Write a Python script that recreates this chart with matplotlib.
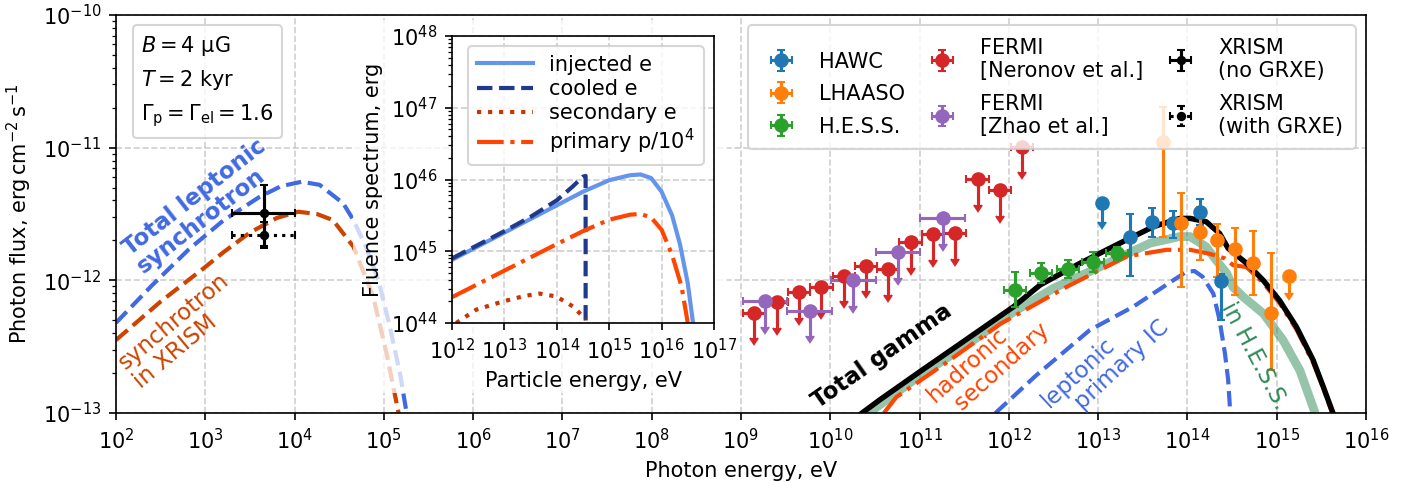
import numpy as np
import matplotlib
matplotlib.use("Agg")
import matplotlib.pyplot as plt
from matplotlib.lines import Line2D
from matplotlib.patches import Rectangle
from matplotlib.ticker import LogLocator

# ---------------- main panel: model curves (log10 E [eV], log10 F [erg/cm2/s]) -------------
sync_tot_logE = [2.0, 2.4, 2.81, 3.2, 3.61, 3.85, 4.08, 4.28, 4.545, 4.66, 4.8, 4.94, 5.067, 5.18, 5.255]
sync_tot_logF = [-12.32, -12.04, -11.77, -11.55, -11.37, -11.29, -11.257, -11.28, -11.42, -11.546,
                 -11.75, -12.0, -12.35, -12.70, -13.0]
sync_xrism_logE = [2.0, 2.5, 2.98, 3.2, 3.5, 3.8, 4.04, 4.25, 4.43, 4.66, 4.88, 5.03, 5.165]
sync_xrism_logF = [-12.45, -12.16, -11.91, -11.79, -11.64, -11.53, -11.483, -11.5, -11.546, -11.747,
                   -12.12, -12.55, -13.0]

tot_gamma_logE = [10.355, 10.556, 11.0, 11.5, 11.9, 12.05, 12.35, 12.795, 13.243, 13.617, 13.915, 14.03,
                  14.21, 14.36, 14.456, 14.66, 14.849, 15.03, 15.22, 15.407, 15.52, 15.63]
tot_gamma_logF = [-13.0, -12.90, -12.69, -12.457, -12.27, -12.2, -12.035, -11.872, -11.72, -11.596, -11.533,
                  -11.533, -11.558, -11.646, -11.759, -11.87, -12.0, -12.15, -12.35, -12.6, -12.8, -13.0]
hess_logE = [10.43, 11.0, 11.5, 12.05, 12.5, 13.02, 13.58, 13.915, 14.03, 14.21, 14.32, 14.44, 14.51,
             14.625, 14.85, 15.07, 15.26, 15.43]
hess_logF = [-13.0, -12.72, -12.5, -12.24, -12.06, -11.898, -11.72, -11.67, -11.67, -11.747, -11.847,
             -11.947, -12.05, -12.125, -12.25, -12.45, -12.68, -13.0]
hadr_logE = [10.6, 10.74, 11.3, 11.9, 12.645, 13.32, 13.765, 14.03, 14.25, 14.42, 14.51, 14.66, 14.849,
             15.03, 15.22, 15.407, 15.52, 15.62]
hadr_logF = [-13.0, -12.88, -12.62, -12.33, -12.05, -11.82, -11.77, -11.77, -11.80, -11.835, -11.885,
             -11.9, -12.02, -12.17, -12.37, -12.62, -12.81, -13.0]
lepIC_logE = [11.85, 12.3, 12.906, 13.39, 13.84, 13.99, 14.08, 14.17, 14.29, 14.36, 14.42, 14.456, 14.48]
lepIC_logF = [-13.0, -12.72, -12.375, -12.20, -12.0, -11.935, -11.93, -11.973, -12.10, -12.30, -12.55,
              -12.75, -13.0]

# ---------------- main panel: data points (log10 values) ----------------
fermiN_logE = [9.15, 9.40, 9.65, 9.90, 10.15, 10.40, 10.65, 10.90, 11.15, 11.40, 11.65, 11.90, 12.15]
fermiN_logF = [-12.244, -12.166, -12.09, -12.048, -11.965, -11.89, -11.917, -11.714, -11.651, -11.646,
               -11.239, -11.322, -10.993]
fermiN_dlogE = 0.125
fermiN_ul_frac = 0.36

fermiZ_logE = [9.27, 9.77, 10.26, 10.76, 11.26]
fermiZ_logF = [-12.156, -12.229, -12.0, -11.785, -11.533]
fermiZ_dlogE = 0.25
fermiZ_ul_frac = 0.36

hess_pts_logE = [12.07, 12.36, 12.66, 12.94, 13.21]
hess_pts_logF = [-12.073, -11.943, -11.917, -11.862, -11.797]
hess_pts_hi = [-11.935, -11.872, -11.847, -11.784, -11.747]
hess_pts_lo = [-12.20, -12.018, -11.98, -11.94, -11.85]
hess_dlogE = 0.125

hawc_logE = [13.045, 13.355, 13.605, 13.843, 14.139, 14.381]
hawc_logF = [-11.415, -11.676, -11.558, -11.571, -11.483, -12.003]
hawc_hi = [-11.415, -11.503, -11.453, -11.478, -11.39, -11.95]
hawc_lo = [-11.415, -11.968, -11.67, -11.68, -11.583, -12.30]
hawc_ul = [True, False, False, False, False, False]
hawc_ul_frac = 0.28

lhaaso_logE = [13.73, 13.933, 14.139, 14.336, 14.538, 14.736, 14.941, 15.135]
lhaaso_logF = [-10.955, -11.566, -11.634, -11.696, -11.766, -11.867, -12.244, -11.965]
lhaaso_hi = [-10.694, -11.345, -11.45, -11.576, -11.608, -11.629, -11.792, -11.965]
lhaaso_lo = [-11.67, -12.048, -11.847, -11.973, -12.111, -12.11, -12.676, -11.965]
lhaaso_ul = [False, False, False, False, False, False, False, True]
lhaaso_ul_frac = 0.26

xrism_E = [4540.0]
xrism_Elo = [2000.0]
xrism_Ehi = [10000.0]
xrism_noG_F = [3.2e-12]
xrism_noG_Fhi = [5.2e-12]
xrism_noG_Flo = [1.8e-12]
xrism_G_F = [2.2e-12]
xrism_G_Fhi = [2.73e-12]
xrism_G_Flo = [1.74e-12]

# ---------------- inset curves (log10 E [eV], log10 fluence [erg]) ----------------
inj_logE = [12.0, 13.0, 14.0, 14.5, 15.0, 15.4, 15.6, 15.8, 16.0, 16.2, 16.35, 16.5, 16.6]
inj_logF = [44.88, 45.26, 45.64, 45.83, 45.99, 46.06, 46.07, 46.02, 45.83, 45.5, 45.1, 44.55, 44.0]
cool_logE = [12.0, 13.0, 13.5, 14.0, 14.3, 14.5, 14.55, 14.55]
cool_logF = [44.9, 45.28, 45.48, 45.71, 45.90, 46.04, 46.05, 44.0]
sec_logE = [12.08, 12.46, 12.97, 13.4, 13.675, 13.99, 14.31, 14.5, 14.55]
sec_logF = [44.0, 44.185, 44.30, 44.38, 44.41, 44.37, 44.23, 44.09, 44.05]
prim_logE = [12.0, 13.0, 14.0, 14.5, 15.0, 15.4, 15.6, 15.8, 16.0, 16.2, 16.38, 16.5]
prim_logF = [44.36, 44.73, 45.1, 45.28, 45.44, 45.51, 45.52, 45.47, 45.30, 44.95, 44.51, 44.0]


def p10(v):
    return np.power(10.0, np.asarray(v, dtype=float))


plt.rcParams['font.family'] = ['DejaVu Sans']
plt.rcParams['font.size'] = 10

W, H = 1421, 482
fig = plt.figure(figsize=(W / 150, H / 150), dpi=150)
ax = fig.add_axes([116 / W, 1 - 413 / H, 1250 / W, 398 / H])
ax.set_xscale('log')
ax.set_yscale('log')
ax.set_xlim(1e2, 1e16)
ax.set_ylim(1e-13, 1e-10)
ax.xaxis.set_major_locator(LogLocator(base=10, numticks=20))
ax.grid(True, which='major', ls='--', color='#b0b0b0', lw=0.8, alpha=0.6)

# synchrotron curves
ax.plot(p10(sync_tot_logE), p10(sync_tot_logF), ls='--', color='royalblue', lw=2)
ax.plot(p10(sync_xrism_logE), p10(sync_xrism_logF), ls='--', color='#cc4400', lw=2)

# gamma-ray curves
ax.plot(p10(hess_logE), p10(hess_logF), color='seagreen', alpha=0.5, lw=4.2, solid_capstyle='butt')
ax.plot(p10(hadr_logE), p10(hadr_logF), ls='-.', color='orangered', lw=2)
ax.plot(p10(lepIC_logE), p10(lepIC_logF), ls='--', color='royalblue', lw=2)
ax.plot(p10(tot_gamma_logE), p10(tot_gamma_logF), color='black', lw=2.6)

# data points
cs = 2
F = p10(fermiN_logF)
E = p10(fermiN_logE)
h_fn = ax.errorbar(E, F, xerr=[E - E * 10 ** -fermiN_dlogE, E * 10 ** fermiN_dlogE - E],
                   yerr=F * fermiN_ul_frac, uplims=True, fmt='o', color='C3', capsize=cs, zorder=3)
F = p10(fermiZ_logF)
E = p10(fermiZ_logE)
h_fz = ax.errorbar(E, F, xerr=[E - E * 10 ** -fermiZ_dlogE, E * 10 ** fermiZ_dlogE - E],
                   yerr=F * fermiZ_ul_frac, uplims=True, fmt='o', color='C4', capsize=cs, zorder=3)
F = p10(hess_pts_logF)
E = p10(hess_pts_logE)
h_hess = ax.errorbar(E, F, xerr=[E - E * 10 ** -hess_dlogE, E * 10 ** hess_dlogE - E],
                     yerr=[F - p10(hess_pts_lo), p10(hess_pts_hi) - F], fmt='o', color='C2',
                     capsize=cs, zorder=3)
F = p10(hawc_logF)
E = p10(hawc_logE)
ul = np.array(hawc_ul)
ylo = np.where(ul, F * hawc_ul_frac, F - p10(hawc_lo))
yhi = np.where(ul, 0.0, p10(hawc_hi) - F)
h_hawc = ax.errorbar(E, F, xerr=np.zeros_like(E), yerr=[ylo, yhi], uplims=ul, fmt='o', color='C0',
                     capsize=cs, zorder=3)
F = p10(lhaaso_logF)
E = p10(lhaaso_logE)
ul = np.array(lhaaso_ul)
ylo = np.where(ul, F * lhaaso_ul_frac, F - p10(lhaaso_lo))
yhi = np.where(ul, 0.0, p10(lhaaso_hi) - F)
h_lh = ax.errorbar(E, F, xerr=np.zeros_like(E), yerr=[ylo, yhi], uplims=ul, fmt='o', color='C1',
                   capsize=cs, zorder=3)

E = np.array(xrism_E)
xe = [E - np.array(xrism_Elo), np.array(xrism_Ehi) - E]
F = np.array(xrism_noG_F)
h_x1 = ax.errorbar(E, F, xerr=xe, yerr=[F - np.array(xrism_noG_Flo), np.array(xrism_noG_Fhi) - F],
                   fmt='o', color='black', ms=3.5, capsize=cs, zorder=4)
F = np.array(xrism_G_F)
h_x2 = ax.errorbar(E, F, xerr=xe, yerr=[F - np.array(xrism_G_Flo), np.array(xrism_G_Fhi) - F],
                   fmt='o', color='black', ms=3.5, capsize=cs, zorder=4)
for bc in h_x2[2]:
    bc.set_linestyle(':')

# curve annotations
txt_kw = dict(fontsize=11, ha='center', va='center', rotation_mode='anchor', multialignment='left')
ax.text(p10(2.96), p10(-11.44), 'Total leptonic\nsynchrotron', color='royalblue',
        fontweight='bold', rotation=38, linespacing=1.0, **txt_kw)
ax.text(p10(2.73), p10(-12.38), 'synchrotron\nin XRISM', color='#cc4400',
        rotation=40, linespacing=1.05, **txt_kw)
ax.text(p10(10.58), p10(-12.57), 'Total gamma', color='black', fontweight='bold',
        rotation=35, **txt_kw)
ax.text(p10(11.77), p10(-12.62), 'hadronic\n  secondary', color='orangered',
        rotation=42, linespacing=1.05, **txt_kw)
ax.text(p10(13.08), p10(-12.63), 'leptonic\n   primary IC', color='royalblue',
        rotation=43, linespacing=1.05, **txt_kw)
ax.text(p10(14.75), p10(-12.57), 'in H.E.S.S.', color='seagreen',
        rotation=-62, **txt_kw)

ax.set_xlabel('Photon energy, eV')
ax.set_ylabel(r'Photon flux, erg$\,$cm$^{-2}\,$s$^{-1}$')

# parameter box
blank = [Line2D([], [], ls='none') for _ in range(3)]
leg_par = ax.legend(blank, [r'$B = 4$ μG', r'$T = 2$ kyr',
                            r'$\Gamma_\mathrm{p} = \Gamma_\mathrm{el} = 1.6$'],
                    loc='upper left', bbox_to_anchor=(0.005, 1.0), handlelength=0, handletextpad=0,
                    fontsize=10)
ax.add_artist(leg_par)

handles = [h_hawc, h_lh, h_hess, h_fn, h_fz, h_x1, h_x2]
labels = ['HAWC', 'LHAASO', 'H.E.S.S.', 'FERMI\n[Neronov et al.]', 'FERMI\n[Zhao et al.]',
          'XRISM\n(no GRXE)', 'XRISM\n(with GRXE)']
ax.legend(handles, labels, ncol=3, loc='upper right', fontsize=10, columnspacing=0.8,
          borderpad=0.6, labelspacing=0.6)

# translucent veil behind the inset
fig.add_artist(Rectangle((353 / W, 1 - 393 / H), (727 - 353) / W, (393 - 20) / H,
                         transform=fig.transFigure, fc='white', ec='none', alpha=0.75, zorder=2))

# ---------------- inset ----------------
axin = fig.add_axes([452 / W, 1 - 323 / H, 262 / W, 287 / H], zorder=3)
axin.set_xscale('log')
axin.set_yscale('log')
axin.set_xlim(1e12, 1e17)
axin.set_ylim(1e44, 1e48)
axin.xaxis.set_major_locator(LogLocator(base=10, numticks=10))
axin.yaxis.set_major_locator(LogLocator(base=10, numticks=10))
axin.grid(True, which='major', ls='--', color='#b0b0b0', lw=0.8, alpha=0.6)
axin.plot(p10(inj_logE), p10(inj_logF), color='cornflowerblue', lw=2, label='injected e')
axin.plot(p10(cool_logE), p10(cool_logF), color='#1f3a8a', ls='--', lw=2, label='cooled e')
axin.plot(p10(sec_logE), p10(sec_logF), color='#cc3300', ls=':', lw=2, label='secondary e')
axin.plot(p10(prim_logE), p10(prim_logF), color='orangered', ls='-.', lw=2,
          label=r'primary p/10$^4$')
axin.set_xlabel('Particle energy, eV')
axin.set_ylabel('Fluence spectrum, erg')
axin.legend(loc='upper right', fontsize=10, handlelength=2.7, labelspacing=0.2)

fig.savefig('out.png', dpi=150)
